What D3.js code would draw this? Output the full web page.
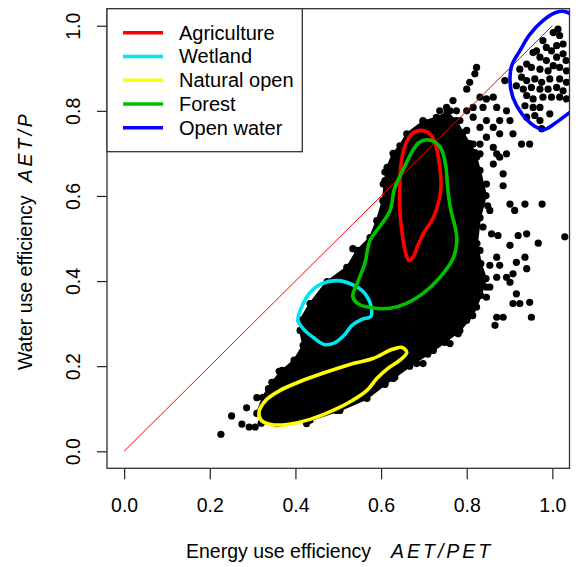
<!DOCTYPE html>
<html>
<head>
<meta charset="utf-8">
<script src="https://cdn.jsdelivr.net/npm/d3@7"></script>
<style>
  html, body { margin: 0; padding: 0; background: #fff; }
  svg { display: block; font-family: "Liberation Sans", Arial, sans-serif; }
</style>
</head>
<body>
<svg id="chart" width="581" height="567"></svg>
<script>
// Axis ticks
const xTicks = [0.0, 0.2, 0.4, 0.6, 0.8, 1.0];
const yTicks = [0.0, 0.2, 0.4, 0.6, 0.8, 1.0];

// Land-cover classes and their contour colours
const landCovers = ["Agriculture", "Wetland", "Natural open", "Forest", "Open water"];
const coverColours = ["#ff0000", "#00e5ee", "#ffff00", "#00c000", "#0000ff"];

// Dense core of the catchment cloud (AET/PET, AET/P); its outline vertices are catchments too
const cloudCore = [
  [0.310,0.089],[0.324,0.127],[0.345,0.162],[0.369,0.190],[0.397,0.214],[0.418,0.249],
  [0.411,0.284],[0.411,0.308],[0.434,0.347],[0.474,0.399],[0.520,0.432],[0.544,0.472],
  [0.574,0.502],[0.590,0.542],[0.604,0.589],[0.609,0.636],[0.614,0.667],[0.628,0.700],
  [0.644,0.718],[0.660,0.746],[0.698,0.775],[0.730,0.784],[0.754,0.796],[0.775,0.777],
  [0.791,0.749],[0.807,0.723],[0.819,0.702],[0.831,0.660],[0.845,0.601],[0.831,0.549],
  [0.824,0.488],[0.833,0.441],[0.845,0.406],[0.833,0.366],[0.814,0.319],[0.784,0.284],
  [0.749,0.256],[0.709,0.228],[0.667,0.200],[0.632,0.174],[0.609,0.157],[0.567,0.124],
  [0.504,0.096],[0.434,0.073],[0.364,0.066],[0.324,0.070]
];

// Individual catchments outside or along the dense core
const catchments = [
  // open water group
  [1.013,0.992],[1.017,0.977],[1.002,0.984],[0.978,0.965],[0.986,0.949],[0.998,0.941],
  [1.010,0.953],[1.025,0.957],[0.955,0.937],[0.971,0.926],[0.986,0.918],[1.010,0.926],
  [1.025,0.934],[1.032,0.918],[0.940,0.910],[0.951,0.902],[0.971,0.898],[0.990,0.894],
  [1.002,0.906],[1.017,0.902],[1.033,0.894],[0.924,0.898],[0.928,0.879],[0.940,0.871],
  [0.959,0.875],[0.975,0.867],[0.994,0.875],[1.017,0.875],[1.033,0.867],[0.916,0.859],
  [0.932,0.851],[0.951,0.855],[0.971,0.851],[0.990,0.851],[1.010,0.855],[1.025,0.847],
  [0.940,0.836],[0.955,0.828],[0.978,0.832],[0.998,0.832],[1.017,0.832],[1.033,0.828],
  [0.936,0.812],[0.955,0.808],[0.971,0.808],[0.994,0.793],[0.959,0.789],[0.971,0.777],
  [0.975,0.758],[0.940,0.785],[0.963,0.941],[0.928,0.722],[0.947,0.722],
  // between the core and open water
  [0.823,0.902],[0.819,0.887],[0.807,0.867],[0.800,0.851],[0.768,0.824],[0.737,0.800],
  [0.753,0.808],[0.776,0.800],[0.846,0.828],[0.862,0.832],[0.838,0.808],[0.870,0.808],
  [0.893,0.800],[0.815,0.785],[0.846,0.777],[0.877,0.777],[0.901,0.777],[0.831,0.761],
  [0.862,0.761],[0.800,0.754],[0.846,0.738],[0.877,0.746],[0.908,0.746],[0.815,0.722],
  [0.862,0.714],[0.792,0.707],[0.831,0.699],[0.877,0.691],[0.889,0.871],
  [0.729,0.784],[0.698,0.777],[0.761,0.800],[0.784,0.777],[0.800,0.800],[0.815,0.808],
  [0.831,0.832],[0.784,0.738],[0.831,0.722],[0.815,0.691],
  // right-hand tail
  [0.870,0.699],[0.893,0.699],[0.862,0.675],[0.885,0.652],[0.885,0.624],[0.901,0.581],
  [0.912,0.566],[0.936,0.581],[0.976,0.581],[1.029,0.504],[0.967,0.489],[0.940,0.511],
  [0.920,0.507],[0.901,0.484],[0.873,0.507],[0.858,0.511],[0.870,0.456],[0.916,0.444],
  [0.936,0.456],[0.940,0.429],[0.877,0.437],[0.908,0.417],[0.893,0.409],[0.870,0.409],
  [0.901,0.397],[0.916,0.370],[0.908,0.347],[0.924,0.347],[0.947,0.350],[0.951,0.315],
  [0.885,0.315],[0.870,0.315],[0.866,0.296],[0.846,0.362],[0.854,0.386],[0.849,0.577],
  [0.761,0.253],[0.722,0.237],[0.698,0.206],[0.683,0.206],
  [0.823,0.691],[0.846,0.628],[0.854,0.566],[0.838,0.527],[0.831,0.472],[0.854,0.437],
  [0.846,0.386],[0.823,0.339],[0.800,0.308],[0.780,0.276],
  // left edge
  [0.609,0.656],[0.605,0.628],[0.601,0.542],
  // lower-left tail
  [0.226,0.040],[0.251,0.083],[0.275,0.064],[0.292,0.057],[0.306,0.057],[0.286,0.102],
  [0.310,0.126],[0.337,0.147],[0.362,0.188],[0.397,0.208],[0.426,0.253],[0.418,0.233],
  [0.446,0.284],[0.356,0.065],[0.426,0.065],[0.496,0.096],[0.566,0.127],[0.590,0.151],
  [0.609,0.159],[0.628,0.171],[0.320,0.066],[0.534,0.476]
];

// Density contours for each land-cover class
const agricultureContour = [
  [0.693,0.754],[0.714,0.746],[0.726,0.725],[0.735,0.683],[0.740,0.624],[0.735,0.589],
  [0.721,0.547],[0.700,0.514],[0.686,0.484],[0.674,0.455],[0.665,0.448],[0.656,0.472],
  [0.649,0.514],[0.644,0.566],[0.644,0.624],[0.646,0.671],[0.656,0.718],[0.672,0.746]
];
const wetlandContour = [
  [0.406,0.308],[0.418,0.347],[0.434,0.373],[0.462,0.394],[0.497,0.401],[0.532,0.392],
  [0.560,0.373],[0.576,0.343],[0.576,0.317],[0.555,0.310],[0.532,0.296],[0.513,0.272],
  [0.490,0.254],[0.467,0.251],[0.441,0.268],[0.420,0.286]
];
const naturalOpenContour = [
  [0.315,0.092],[0.331,0.120],[0.364,0.143],[0.411,0.164],[0.469,0.185],[0.527,0.204],
  [0.581,0.218],[0.625,0.239],[0.649,0.244],[0.660,0.232],[0.644,0.214],[0.616,0.195],
  [0.590,0.171],[0.567,0.143],[0.534,0.120],[0.488,0.096],[0.434,0.075],[0.380,0.063],
  [0.343,0.063],[0.320,0.073]
];
const forestContour = [
  [0.707,0.732],[0.728,0.725],[0.742,0.707],[0.751,0.671],[0.756,0.613],[0.763,0.566],
  [0.772,0.531],[0.777,0.495],[0.768,0.453],[0.737,0.408],[0.698,0.371],[0.658,0.347],
  [0.621,0.336],[0.574,0.338],[0.546,0.347],[0.534,0.364],[0.544,0.394],[0.562,0.441],
  [0.574,0.495],[0.597,0.528],[0.621,0.566],[0.630,0.613],[0.639,0.636],[0.656,0.671],
  [0.674,0.707],[0.688,0.725]
];
const openWaterContour = [
  [0.924,0.941],[0.947,0.979],[0.978,1.012],[1.008,1.031],[1.031,1.033],[1.052,1.016],
  [1.064,0.918],[1.059,0.812],[1.036,0.793],[1.008,0.772],[0.980,0.756],[0.957,0.765],
  [0.929,0.793],[0.908,0.831],[0.901,0.871],[0.905,0.906]
];
const contours = [agricultureContour, wetlandContour, naturalOpenContour, forestContour, openWaterContour];

(function draw() {
  const svg = d3.select("#chart");
  const pL = 107, pR = 569.5, pT = 8.7, pB = 468.3;
  const x = d3.scaleLinear().domain([-0.04, 1.04]).range([pL, pR]);
  const y = d3.scaleLinear().domain([-0.04, 1.04]).range([pB, pT]);
  const font = "Liberation Sans, Arial, sans-serif";
  const dotR = 3.6;

  svg.append("rect").attr("width", 581).attr("height", 567).attr("fill", "#fff");

  svg.append("defs").append("clipPath").attr("id", "plotClip")
    .append("rect").attr("x", pL).attr("y", pT)
    .attr("width", pR - pL).attr("height", pB - pT);

  const plot = svg.append("g").attr("clip-path", "url(#plotClip)");

  // dense core of points
  plot.append("path")
    .datum(cloudCore)
    .attr("d", d3.line().x(d => x(d[0])).y(d => y(d[1])).curve(d3.curveLinearClosed))
    .attr("fill", "#000").attr("stroke", "#000")
    .attr("stroke-width", 2).attr("stroke-linejoin", "round");

  plot.selectAll("circle.pt")
    .data(cloudCore.concat(catchments))
    .join("circle")
    .attr("class", "pt")
    .attr("cx", d => x(d[0])).attr("cy", d => y(d[1]))
    .attr("r", dotR).attr("fill", "#000");

  // 1:1 line
  plot.append("line")
    .attr("x1", x(0)).attr("y1", y(0)).attr("x2", x(1)).attr("y2", y(1))
    .attr("stroke", "#ff0000").attr("stroke-width", 1);

  // contours
  const contourLine = d3.line().x(d => x(d[0])).y(d => y(d[1])).curve(d3.curveCatmullRomClosed.alpha(0.5));
  contours.forEach((c, i) => {
    plot.append("path").datum(c)
      .attr("d", contourLine)
      .attr("fill", "none")
      .attr("stroke", coverColours[i])
      .attr("stroke-width", 3.6);
  });

  // axes
  const fs = 19.5;
  const xAxis = svg.append("g").attr("transform", `translate(0,${pB})`)
    .call(d3.axisBottom(x).tickValues(xTicks).tickSize(11).tickPadding(0).tickFormat(d3.format(".1f")));
  xAxis.select(".domain").remove();
  xAxis.selectAll(".tick line").attr("stroke", "#222").attr("stroke-width", 1.2);
  xAxis.selectAll(".tick text")
    .attr("y", 43.4).attr("dy", null)
    .attr("font-size", fs).attr("font-family", font).attr("fill", "#000");

  const yAxis = svg.append("g").attr("transform", `translate(${pL},0)`)
    .call(d3.axisLeft(y).tickValues(yTicks).tickSize(10).tickPadding(0).tickFormat(d3.format(".1f")));
  yAxis.select(".domain").remove();
  yAxis.selectAll(".tick line").attr("stroke", "#222").attr("stroke-width", 1.2);
  yAxis.selectAll(".tick text")
    .attr("x", null).attr("dy", null)
    .attr("text-anchor", "middle")
    .attr("transform", "translate(-27.5,0) rotate(-90)")
    .attr("font-size", fs).attr("font-family", font).attr("fill", "#000");

  // plot frame
  svg.append("rect").attr("x", pL).attr("y", pT)
    .attr("width", pR - pL).attr("height", pB - pT)
    .attr("fill", "none").attr("stroke", "#333").attr("stroke-width", 1.3);

  // axis titles
  const xt = svg.append("text").attr("x", 186).attr("y", 558).attr("font-size", fs).attr("fill", "#000");
  xt.append("tspan").text("Energy use efficiency");
  xt.append("tspan").attr("dx", 20).attr("font-style", "italic").attr("letter-spacing", 3).text("AET/PET");

  const yt = svg.append("text").attr("transform", "translate(31.5,370) rotate(-90)")
    .attr("font-size", fs).attr("fill", "#000");
  yt.append("tspan").text("Water use efficiency");
  yt.append("tspan").attr("dx", 13).attr("font-style", "italic").attr("letter-spacing", 3).text("AET/P");

  // legend
  const legend = svg.append("g");
  legend.append("rect").attr("x", pL).attr("y", pT).attr("width", 302.3 - pL).attr("height", 151.7 - pT)
    .attr("fill", "#fff").attr("stroke", "#333").attr("stroke-width", 1.3);
  const rowY = d3.scaleLinear().domain([0, 4]).range([32.7, 127.7]);
  landCovers.forEach((name, i) => {
    legend.append("line").attr("x1", 123).attr("x2", 163).attr("y1", rowY(i)).attr("y2", rowY(i))
      .attr("stroke", coverColours[i]).attr("stroke-width", 3.6);
    legend.append("text").attr("x", 179).attr("y", rowY(i) + 6.8)
      .attr("font-size", 20).attr("fill", "#000").text(name);
  });
})();
</script>
</body>
</html>
